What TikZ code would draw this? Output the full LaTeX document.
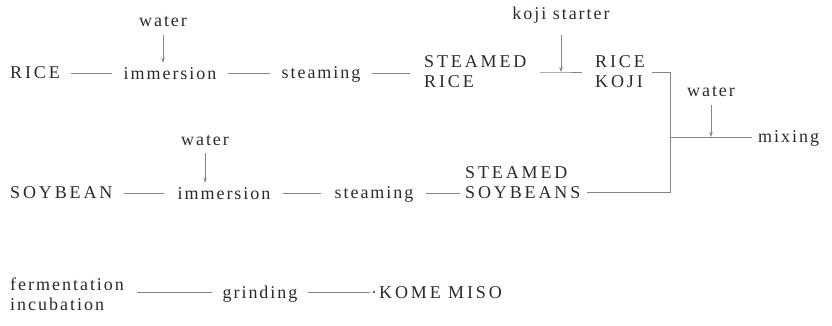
\documentclass[tikz,border=0pt]{standalone}
\usepackage{fontspec}
\setmainfont{Liberation Serif}
\newfontfamily\lowfont[LetterSpace=11]{Liberation Serif}
\newfontfamily\capfont[LetterSpace=16]{Liberation Serif}
\usetikzlibrary{arrows.meta}
\definecolor{ink}{HTML}{2A2A2A}
\definecolor{rule}{HTML}{858585}
\begin{document}
\begin{tikzpicture}[x=1pt,y=1pt,
  lbl/.style={inner sep=0pt,text=ink,font=\fontsize{18}{20}\selectfont\lowfont},
  capbox/.style={inner sep=0pt,text=ink,font=\fontsize{18}{20}\selectfont\capfont,align=left},
  link/.style={draw=rule,line width=0.65pt},
  feed/.style={draw=rule,line width=0.65pt,-{Stealth[length=5pt,width=3.5pt]}}]
\useasboundingbox (0,0) rectangle (832,-326);

% rice line
\node[capbox]  (rice)  at (35,-73)  {RICE};
\node[lbl]  (imm1)  at (170,-74) {immersion};
\node[lbl]  (stm1)  at (321,-74) {steaming};
\node[capbox,anchor=west] (srice) at (424,-72) {STEAMED\\RICE};
\node[capbox,anchor=west] (koji)  at (595,-72) {RICE\\KOJI};
\node[lbl]  (water1) at (163,-22) {water};
\node[lbl]  (kstart) at (561,-15) {koji starter};

% soybean line
\node[capbox,anchor=west] (soy) at (10,-193) {SOYBEAN};
\node[lbl]  (imm2)  at (224,-194) {immersion};
\node[lbl]  (stm2)  at (374,-194) {steaming};
\node[capbox,anchor=west] (ssoy) at (465,-183) {STEAMED\\SOYBEANS};
\node[lbl]  (water2) at (205,-141) {water};

% mixing
\node[lbl]  (water3) at (711,-92) {water};
\node[lbl,anchor=west] (mix) at (758,-138) {mixing};

% final line
\node[lbl,anchor=west,align=left] (ferm) at (10,-294) {fermentation\\incubation};
\node[lbl]  (grind) at (260,-294) {grinding};
\node[capbox,anchor=west] (kome) at (379,-293) {KOME MISO};

\coordinate (kj)   at (561,-72);
\coordinate (ctop) at (670,-72);
\coordinate (cbot) at (670,-192);
\coordinate (cmid) at (670,-137);
\coordinate (wj)   at (711,-137);
\coordinate (kd)   at (370,-292);

% connectors, rice
\draw[link] ([xshift=11pt]rice.east |- 0,-73) -- ([xshift=-11pt]imm1.west |- 0,-73);
\draw[link] ([xshift=11pt]imm1.east |- 0,-73) -- ([xshift=-11pt]stm1.west |- 0,-73);
\draw[link] ([xshift=11pt]stm1.east |- 0,-73) -- ([xshift=-14pt]srice.west |- 0,-73);
\draw[link] ([xshift=13pt]srice.east |- kj) -- (kj) -- ([xshift=-13pt]koji.west |- kj);
\draw[feed] ([yshift=-12pt]kstart.south -| kj) -- (kj);
\draw[feed] ([yshift=-8pt]water1.south) -- ([yshift=5pt]imm1.north -| water1);

% connectors, soybean
\draw[link] ([xshift=11pt]soy.east) -- ([xshift=-13pt]imm2.west |- soy);
\draw[link] ([xshift=12pt]imm2.east |- soy) -- ([xshift=-13pt]stm2.west |- soy);
\draw[link] ([xshift=12pt]stm2.east |- soy) -- ([xshift=-5pt]ssoy.west |- soy);
\draw[feed] ([yshift=-7pt]water2.south) -- ([yshift=5pt]imm2.north -| water2);

% join into mixing
\draw[link] ([xshift=7pt]koji.east |- ctop) -- (ctop) -- (cbot) -- ([xshift=6pt]ssoy.east |- cbot);
\draw[link] (cmid) -- ([xshift=-6pt]mix.west |- cmid);
\draw[feed] ([yshift=-8pt]water3.south) -- (wj);

% final line
\draw[link] ([xshift=13pt]ferm.east |- 0,-292) -- ([xshift=-10pt]grind.west |- 0,-292);
\draw[link] ([xshift=10pt]grind.east |- 0,-292) -- (kd);
\fill[ink] ([xshift=4pt]kd) circle (1.1pt);
\end{tikzpicture}
\end{document}
